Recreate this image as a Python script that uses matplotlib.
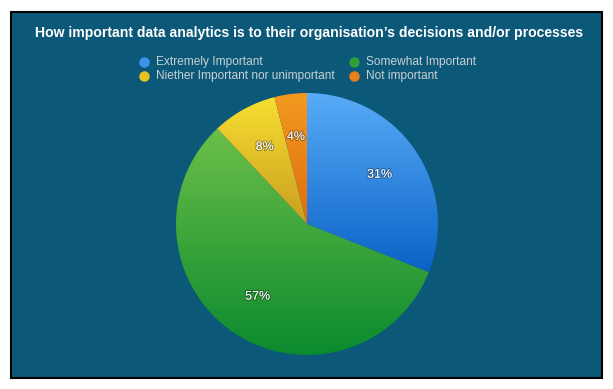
import matplotlib.pyplot as plt
import matplotlib.patheffects as pe
import numpy as np
from matplotlib.colors import LinearSegmentedColormap
from matplotlib.lines import Line2D
from matplotlib.patches import Rectangle

plt.rcParams['font.family'] = ['Liberation Sans', 'DejaVu Sans']

title = "How important data analytics is to their organisation\u2019s decisions and/or processes"
categories = ['Extremely Important', 'Somewhat Important',
              'Niether Important nor unimportant', 'Not important']
values = [31, 57, 8, 4]
# (top, bottom) gradient colours for each slice
grad_colors = [('#58acf8', '#0a62c6'), ('#6cbf48', '#0a8a2e'),
               ('#f8de30', '#c89e20'), ('#f29a20', '#e06e0e')]
marker_colors = ['#3d92ea', '#2f9e38', '#e6c420', '#e8801a']

W, H = 613, 389
bg = '#0b5878'

fig = plt.figure(figsize=(W / 100, H / 100), dpi=100, facecolor='white')

# dark panel with black border (behind the pie axes)
fig.add_artist(Rectangle((11 / W, 1 - 378 / H), 591 / W, 366 / H,
                         transform=fig.transFigure, facecolor=bg,
                         edgecolor='black', linewidth=1.5, zorder=-1))

fig.text(309 / W, 1 - 33 / H, title, color='white', fontsize=10.1,
         fontweight='bold', ha='center', va='center')

# legend, two columns
leg_x = [(144, 156), (354, 366)]
leg_y = [62, 76]
for i, (lab, col) in enumerate(zip(categories, marker_colors)):
    mx, tx = leg_x[i % 2]
    y = 1 - leg_y[i // 2] / H
    fig.add_artist(Line2D([mx / W], [y], marker='o', markersize=6.5,
                          color=col, markeredgecolor=col,
                          transform=fig.transFigure))
    fig.text(tx / W, y, lab, color='#c9d0d4', fontsize=8.6, va='center', ha='left')

# pie axes: centre (307, 224), radius 131 px
cx, cy, r = 307, 224, 131
pad = 1.03
ax = fig.add_axes([(cx - r * pad) / W, (H - cy - r * pad) / H,
                   2 * r * pad / W, 2 * r * pad / H])

wedges, texts, autotexts = ax.pie(values, startangle=90, counterclock=False,
                                  radius=1, pctdistance=0.67,
                                  autopct='%d%%',
                                  wedgeprops=dict(linewidth=0))
ax.set_xlim(-pad, pad)
ax.set_ylim(-pad, pad)
ax.axis('off')

grad = np.linspace(0, 1, 256).reshape(-1, 1)
for w, (top, bot) in zip(wedges, grad_colors):
    w.set_facecolor('none')
    v = w.get_path().vertices
    x0, x1 = v[:, 0].min(), v[:, 0].max()
    y0, y1 = v[:, 1].min(), v[:, 1].max()
    cmap = LinearSegmentedColormap.from_list('g', [top, bot])
    im = ax.imshow(grad, cmap=cmap, extent=(x0, x1, y0, y1), aspect='auto',
                   origin='upper', zorder=1)
    im.set_clip_path(w)
ax.set_xlim(-pad, pad)
ax.set_ylim(-pad, pad)

for t in autotexts:
    t.set_color('white')
    t.set_fontsize(9)
    t.set_zorder(3)
    t.set_path_effects([pe.withStroke(linewidth=1.4, foreground=(0, 0, 0, 0.35))])

fig.savefig('out.png', dpi=100, facecolor='white')
